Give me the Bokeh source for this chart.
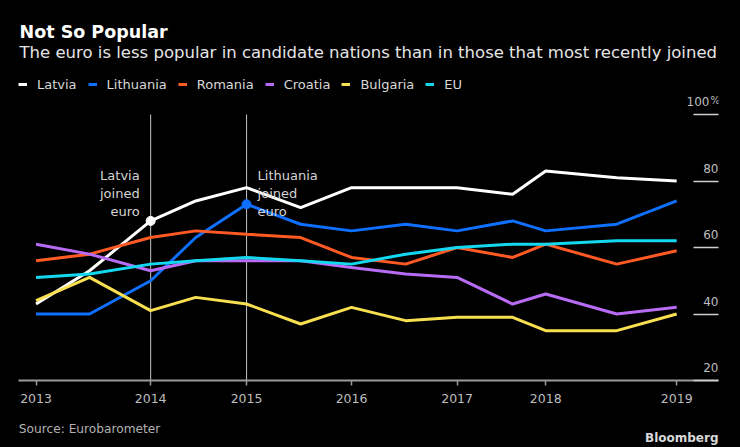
import pandas as pd
from bokeh.plotting import figure
from bokeh.layouts import column
from bokeh.models import (ColumnDataSource, Range1d, FixedTicker, Label, LabelSet,
                          Legend, LegendItem)
from bokeh.core.properties import value
from bokeh.embed import file_html
from bokeh.resources import INLINE

# ---- data ----
dates = ["2013-04-15", "2013-10-15", "2014-05-12", "2014-10-13", "2015-04-05", "2015-10-07",
         "2016-03-29", "2016-09-30", "2017-03-25", "2017-10-01", "2018-01-22", "2018-09-22",
         "2019-04-15"]
latvia = [43, 53, 68, 74, 78, 72, 78, 78, 78, 76, 83, 81, 80]
lithuania = [40, 40, 50, 63, 73, 67, 65, 67, 65, 68, 65, 67, 74]
romania = [56, 58, 63, 65, 64, 63, 57, 55, 60, 57, 61, 55, 59]
croatia = [61, 58, 53, 56, 56, 56, 54, 52, 51, 43, 46, 40, 42]
bulgaria = [44, 51, 41, 45, 43, 37, 42, 38, 39, 39, 35, 35, 40]
eu = [51, 52, 55, 56, 57, 56, 55, 58, 60, 61, 61, 62, 62]

series_names = ["Latvia", "Lithuania", "Romania", "Croatia", "Bulgaria", "EU"]
series_values = [latvia, lithuania, romania, croatia, bulgaria, eu]
series_colors = ["#ffffff", "#0f6fff", "#ff5a24", "#b86cf5", "#f8df4f", "#12d8f0"]

tick_dates = ["2013-04-15", "2014-05-12", "2015-04-05", "2016-03-29", "2017-03-25",
              "2018-01-22", "2019-04-15"]
tick_labels = ["2013", "2014", "2015", "2016", "2017", "2018", "2019"]
y_ticks = [20, 40, 60, 80, 100]
y_tick_labels = ["20", "40", "60", "80", "100"]
y_unit = "%"

event_dates = ["2014-05-12", "2015-04-05"]
event_texts = ["Latvia\njoined\neuro", "Lithuania\njoined\neuro"]
event_series = ["Latvia", "Lithuania"]

title = "Not So Popular"
subtitle = "The euro is less popular in candidate nations than in those that most recently joined"
source_text = "Source: Eurobarometer"
brand = "Bloomberg"


def ms(d):
    return (pd.Timestamp(d) - pd.Timestamp("1970-01-01")) / pd.Timedelta(milliseconds=1)


x_start, x_end = ms("2013-02-14"), ms("2019-09-05")
y_lo, y_hi = 20, 100
y_top = y_lo + 380 / 3.325   # frame reaches the top of the canvas

data = {"x": [ms(d) for d in dates]}
for n, v in zip(series_names, series_values):
    data[n] = v
src = ColumnDataSource(data)

FONT = "DejaVu Sans"
BG = {"background-color": "#000000"}

p = figure(width=740, height=410, x_axis_type="datetime", y_axis_location="right",
           x_range=Range1d(x_start, x_end), y_range=Range1d(y_lo, y_top),
           output_backend="svg", toolbar_location=None,
           min_border_left=18, min_border_right=22, min_border_top=0, min_border_bottom=30,
           background_fill_color="black", border_fill_color=None, outline_line_color=None)
p.styles = BG
p.grid.visible = False

# x axis
xa = p.xaxis[0]
xa.ticker = FixedTicker(ticks=[ms(d) for d in tick_dates])
xa.major_label_overrides = {ms(d): l for d, l in zip(tick_dates, tick_labels)}
xa.axis_line_color = "#9a9a9a"
xa.axis_line_width = 2
xa.major_tick_line_color = "#9a9a9a"
xa.major_tick_line_width = 1.5
xa.major_tick_out = 5
xa.major_tick_in = 0
xa.minor_tick_line_color = None
xa.major_label_standoff = 8
xa.major_label_text_color = "#bdbdbd"
xa.major_label_text_font = FONT
xa.major_label_text_font_size = "12.5px"

# y axis (right) - only the horizontal tick lines; values are written above them
ya = p.yaxis[0]
ya.ticker = FixedTicker(ticks=y_ticks)
ya.major_label_overrides = {t: "" for t in y_ticks}
ya.axis_line_color = None
ya.major_tick_in = 25
ya.major_tick_out = 0
ya.major_tick_line_color = "#cfcfcf"
ya.major_tick_line_width = 1.5
ya.minor_tick_line_color = None
ya.major_label_standoff = 0

# event lines (from the bottom to the top of the value scale)
ev_x = [ms(d) for d in event_dates]
p.segment(x0=ev_x, y0=[y_lo] * len(ev_x), x1=ev_x, y1=[y_hi] * len(ev_x),
          line_color="#c4c4c4", line_width=1, level="underlay")

# series
items = []
for n, c in zip(series_names, series_colors):
    r = p.line(x="x", y=n, source=src, line_color=c, line_width=3)
    items.append(LegendItem(label=n, renderers=[r]))

# event markers + labels
for d, t, s, al, off in zip(event_dates, event_texts, event_series, ["right", "left"], [-11, 11]):
    i = dates.index(d)
    c = series_colors[series_names.index(s)]
    v = series_values[series_names.index(s)][i]
    p.scatter(x=[ms(d)], y=[v], size=9, color=c)
    p.add_layout(Label(x=ms(d), y=84, x_offset=off, text=t, text_align=al, text_baseline="top",
                       text_font=FONT, text_font_size="13px", text_color="#d4d4d4"))

legend = Legend(items=items, location=(0, 288), orientation="horizontal",
                background_fill_alpha=0, border_line_color=None, padding=0, margin=0,
                spacing=11, glyph_width=9, glyph_height=16, label_height=16, label_standoff=10,
                label_text_color="#d8d8d8", label_text_font=FONT, label_text_font_size="13px")
p.add_layout(legend)

# y tick labels above the tick lines
x_off = [0, 0, 0, 0, -9]
ysrc = ColumnDataSource({"x": [x_end] * len(y_ticks), "y": y_ticks, "t": y_tick_labels,
                         "xo": x_off})
p.add_layout(LabelSet(x="x", y="y", text="t", source=ysrc, x_offset="xo", text_align="right",
                      text_baseline="middle", y_offset=13, text_color="#bdbdbd",
                      text_font=value(FONT), text_font_size=value("12px")))
p.add_layout(Label(x=x_end, y=y_hi, x_offset=-8, y_offset=14, text=y_unit, text_align="left",
                   text_baseline="middle", text_color="#bdbdbd", text_font=FONT,
                   text_font_size="10px"))

# title and subtitle (inside the frame, which reaches the top of the canvas)
p.add_layout(Label(x=1, y=349, x_units="screen", y_units="screen", text=title,
                   text_font=FONT, text_font_style="bold", text_font_size="17.5px",
                   text_color="#ffffff", text_baseline="middle"))
p.add_layout(Label(x=1, y=328, x_units="screen", y_units="screen", text=subtitle,
                   text_font=FONT, text_font_size="16.5px", text_color="#e6e6e6",
                   text_baseline="middle"))

# footer (its frame is aligned with the chart's frame: 18 .. 718)
f = figure(width=740, height=37, x_range=Range1d(0, 1), y_range=Range1d(0, 1),
           x_axis_location=None, y_axis_location=None, output_backend="svg",
           toolbar_location=None, min_border_left=18, min_border_right=22,
           min_border_top=0, min_border_bottom=0,
           background_fill_color="black", border_fill_color=None, outline_line_color=None)
f.styles = BG
f.grid.visible = False
f.add_layout(Label(x=0.3, y=19, x_units="screen", y_units="screen", text=source_text,
                   text_font=FONT, text_font_size="12.2px", text_color="#b0b0b0",
                   text_baseline="middle"))
f.add_layout(Label(x=700, y=9.5, x_units="screen", y_units="screen", text=brand,
                   text_font=FONT, text_font_style="bold", text_font_size="12px",
                   text_color="#d9d9d9", text_baseline="middle", text_align="right"))

layout = column(p, f, spacing=0, styles=BG)
open("out.html", "w").write(file_html(layout, INLINE))
